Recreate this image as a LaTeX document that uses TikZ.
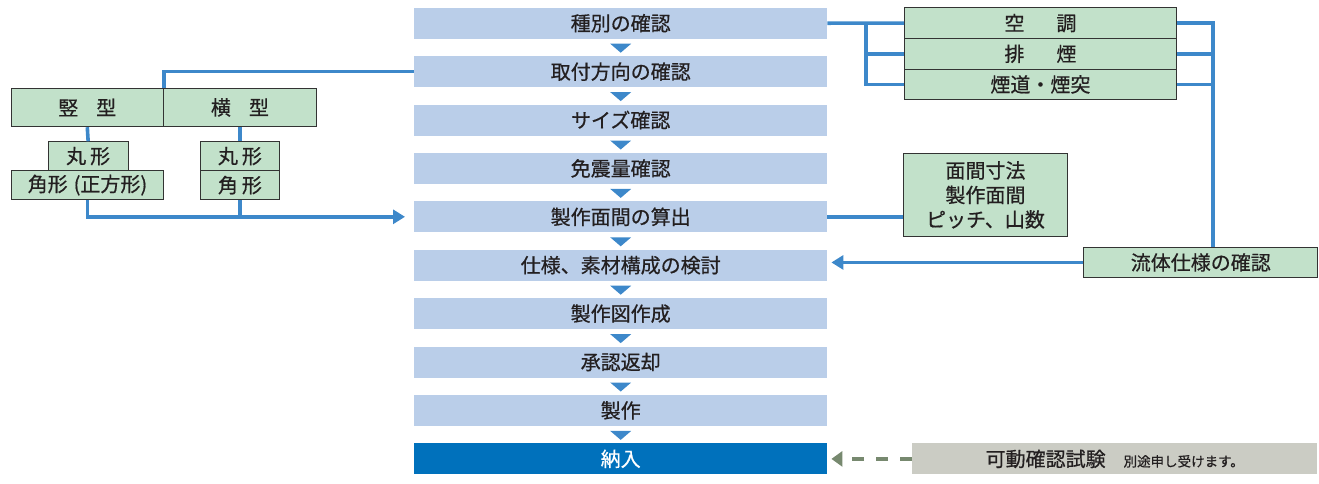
\documentclass[tikz,border=0pt]{standalone}
\usepackage{fontspec}
\setmainfont{Noto Sans CJK JP}[FakeBold=0.6]
\usetikzlibrary{arrows.meta,calc}
\definecolor{mfill}{HTML}{BACEE9}
\definecolor{mdark}{HTML}{0071BC}
\definecolor{lblue}{HTML}{3D88CA}
\definecolor{gfill}{HTML}{C2E1CA}
\definecolor{gdraw}{HTML}{333333}
\definecolor{kfill}{HTML}{CBCCC4}
\definecolor{karrow}{HTML}{77896F}
\definecolor{txt}{HTML}{231F20}
\tikzset{
  mbox/.style={fill=mfill, minimum width=413pt, minimum height=31pt, inner sep=0pt, anchor=north west, font=\fontsize{20}{22}\selectfont, text=txt},
  gbox/.style={fill=gfill, draw=gdraw, line width=0.9pt, inner sep=0pt, anchor=north west, font=\fontsize{20}{24.5}\selectfont, text=txt, align=center},
  conn/.style={draw=lblue, line width=3.6pt},
  tri/.style={fill=lblue},
}
\begin{document}
\begin{tikzpicture}[x=1pt,y=-1pt]
\useasboundingbox (0,0) rectangle (1319,483);
% main column
\foreach \i/\t in {1/種別の確認,2/取付方向の確認,3/サイズ確認,4/免震量確認,5/製作面間の算出,6/仕様、素材構成の検討,7/製作図作成,8/承認返却,9/製作}{
  \node[mbox] (m\i) at (414,{7.5+48.4*(\i-1)}) {\t};
}
\node[mbox, fill=mdark, text=white] (m10) at (414,{7.5+48.4*9}) {納入};
\foreach \i in {1,...,9}{
  \fill[tri] ($(m\i.south)+(-10.5,4.8)$) -- ($(m\i.south)+(10.5,4.8)$) -- ($(m\i.south)+(0,13.8)$) -- cycle;
}
% left
\node[gbox, minimum width=152.3pt, minimum height=38.6pt] (tate) at (10.7,87.7) {竪\hspace{0.9em}型};
\node[gbox, minimum width=153pt, minimum height=38.6pt] (yoko) at (163,87.7) {横\hspace{0.9em}型};
\node[gbox, minimum width=80pt, minimum height=28.7pt] (maru1) at (47.7,141.3) {丸\hspace{0.2em}形};
\node[gbox, minimum width=152.6pt, minimum height=29.3pt] (kaku1) at (10.7,170) {角形\hspace{0.3em}(正方形)};
\node[gbox, minimum width=79.6pt, minimum height=28.7pt] (maru2) at (199.7,141.3) {丸\hspace{0.2em}形};
\node[gbox, minimum width=79.6pt, minimum height=29.3pt] (kaku2) at (199.7,170) {角\hspace{0.2em}形};
\draw[conn] (tate.north east) |- (m2.west);
\draw[conn] (tate.south) -- (maru1.north);
\draw[conn] (yoko.south) -- (maru2.north);
\draw[conn] (kaku2.south) -- (kaku2.south |- m5.west);
\draw[conn, -{Triangle[length=12pt,width=14pt]}, shorten >=9pt] (kaku1.south) |- (m5.west);
% top right
\node[gbox, minimum width=272pt, minimum height=30.7pt] (ac) at (904,7.3) {空\hspace{1.6em}調};
\node[gbox, minimum width=272pt, minimum height=30.7pt] (hai) at (904,38) {排\hspace{1.6em}煙};
\node[gbox, minimum width=272pt, minimum height=30.6pt] (ento) at (904,68.7) {煙道・煙突};
\coordinate (bx) at (866,0);
\coordinate (rx) at (1213,0);
\draw[conn] (m1.east) -- (ac.west);
\draw[conn] (bx |- m1.east) |- (hai.west);
\draw[conn] (bx |- m1.east) |- (ento.west);
% middle right
\node[gbox, minimum width=163.4pt, minimum height=83.6pt] (men) at (903.3,152.7) {面間寸法\\製作面間\\ピッチ、山数};
\draw[conn] (m5.east) -- (men.west |- m5.east);
\node[gbox, minimum width=234pt, minimum height=30.6pt] (ryu) at (1083.3,246.7) {流体仕様の確認};
\draw[conn] (ac.east) -| (rx |- ryu.north);
\draw[conn] (hai.east) -- (rx |- hai.east);
\draw[conn] (ento.east) -- (rx |- ento.east);
\draw[conn, -{Triangle[length=12pt,width=14pt]}, shorten >=4pt] (ryu.west) -- (ryu.west -| m6.east);
% bottom
\node[fill=kfill, minimum width=405pt, minimum height=31pt, inner sep=0pt, anchor=north west, text=txt] (kado) at (912,443.2) {\fontsize{20}{22}\selectfont 可動確認試験\hspace{0.9em}\fontsize{13.5}{15}\selectfont 別途申し受けます。};
\draw[draw=karrow, line width=4.5pt, dash pattern=on 12pt off 12pt, -{Triangle[length=11pt,width=15pt]}, shorten >=4pt] (kado.west) -- (kado.west -| m10.east);
\end{tikzpicture}
\end{document}
